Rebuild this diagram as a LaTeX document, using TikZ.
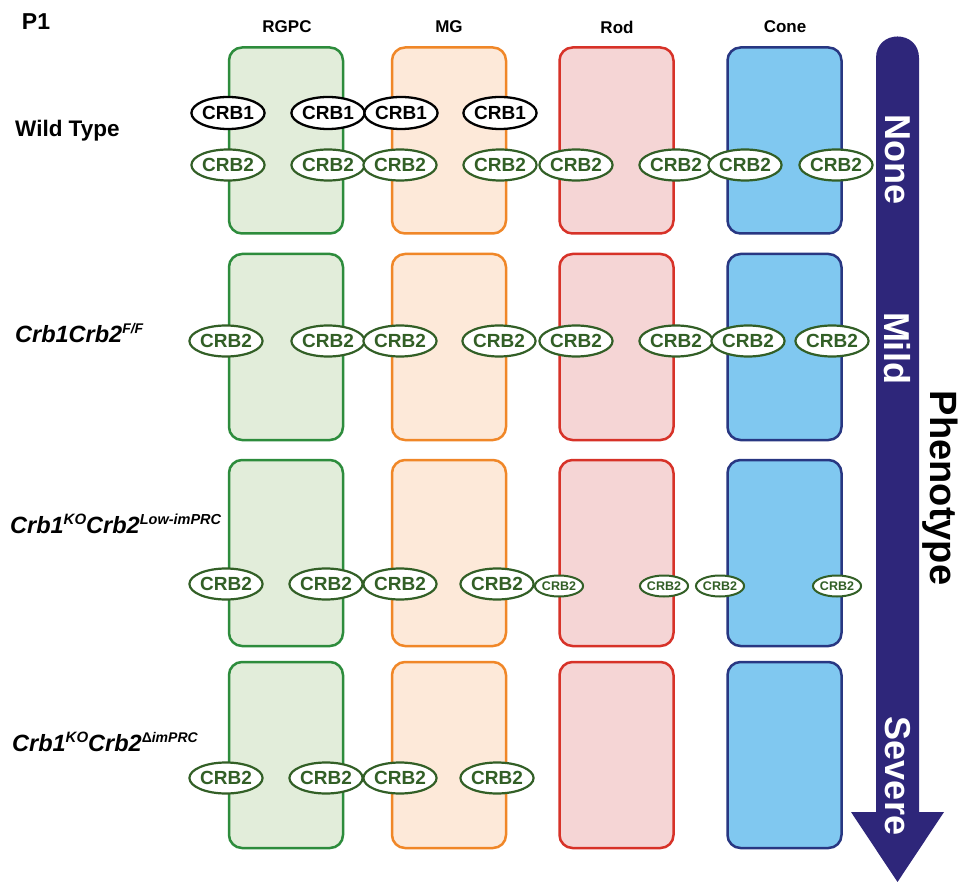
\documentclass[tikz,border=0pt]{standalone}
\usepackage{fontspec}
\setmainfont{Liberation Sans}
\usetikzlibrary{shapes.geometric}
\definecolor{greenS}{RGB}{45,140,60}
\definecolor{greenF}{RGB}{226,237,218}
\definecolor{orangeS}{RGB}{240,135,40}
\definecolor{orangeF}{RGB}{253,233,217}
\definecolor{redS}{RGB}{215,50,40}
\definecolor{redF}{RGB}{245,213,213}
\definecolor{blueS}{RGB}{40,55,130}
\definecolor{blueF}{RGB}{128,200,240}
\definecolor{arrowC}{RGB}{46,38,122}
\definecolor{crbG}{RGB}{50,95,38}
\newcommand{\fs}[1]{\fontsize{#1}{#1}\selectfont}
\begin{document}
\begin{tikzpicture}[x=1pt,y=-1pt,
  cellbox/.style={draw, line width=2.5pt, rounded corners=13pt, minimum width=114pt, minimum height=186pt, inner sep=0pt},
  crbone/.style={ellipse, draw=black, fill=white, line width=2.3pt, minimum width=68pt, minimum height=32pt, inner sep=0pt, font=\fs{19}\bfseries, text=black},
  crbtwo/.style={ellipse, draw=crbG, fill=white, line width=2.2pt, minimum width=68pt, minimum height=31pt, inner sep=0pt, font=\fs{19}\bfseries, text=crbG},
  crbsmall/.style={ellipse, draw=crbG, fill=white, line width=2pt, minimum width=48pt, minimum height=21pt, inner sep=0pt, font=\fs{12.5}\bfseries, text=crbG},
  collabel/.style={font=\fs{17}\bfseries},
  rowlabel/.style={anchor=west, font=\fs{23.5}\bfseries\itshape, inner sep=0pt},
  arrowtext/.style={rotate=-90, text=white, font=\fs{36}\bfseries},
]
\useasboundingbox (0,0) rectangle (966,882);
\fill[white] (0,0) rectangle (966,882);

% headings
\node[font=\fs{23}\bfseries] (p1) at (36,22) {P1};
\node[collabel] (hRGPC) at (287,27) {RGPC};
\node[collabel] (hMG) at (449,27) {MG};
\node[collabel] (hRod) at (617,27) {Rod};
\node[collabel] (hCone) at (785,27) {Cone};

% cell boxes
\foreach \r/\y in {1/140.5,2/347,3/553,4/755}{
  \node[cellbox, draw=greenS, fill=greenF] (rgpc\r) at (286,\y) {};
  \node[cellbox, draw=orangeS, fill=orangeF] (mg\r) at (449,\y) {};
  \node[cellbox, draw=redS, fill=redF] (rod\r) at (616.5,\y) {};
  \node[cellbox, draw=blueS, fill=blueF] (cone\r) at (784.5,\y) {};
}

% row labels
\node[anchor=west, inner sep=0pt, font=\fs{22.5}\bfseries] (lab1) at (15,131) {Wild Type};
\node[rowlabel] (lab2) at (15,333) {Crb1Crb2\raisebox{0.72ex}{\fs{14}F/F}};
\node[rowlabel] (lab3) at (10,524) {Crb1\raisebox{0.72ex}{\fs{15}KO}Crb2\raisebox{0.72ex}{\fs{14.5}Low-imPRC}};
\node[rowlabel] (lab4) at (12,742) {Crb1\raisebox{0.72ex}{\fs{15}KO}Crb2\raisebox{0.72ex}{\fs{14}\textup{Δ}imPRC}};

% row 1
\foreach \x [count=\i] in {228,328,401,500}
  \node[crbone] (a\i) at (\x,113) {CRB1};
\foreach \x [count=\i] in {228,328,400,500,576,676,745,836}
  \node[crbtwo] (b\i) at (\x,165) {CRB2};
% row 2
\foreach \x [count=\i] in {226,328,400,499,576,676,748,832}
  \node[crbtwo] (c\i) at (\x,341) {CRB2};
% row 3
\foreach \x [count=\i] in {226,326,400,497}
  \node[crbtwo] (d\i) at (\x,584) {CRB2};
\foreach \x [count=\i] in {559,664,720,837}
  \node[crbsmall] (s\i) at (\x,586) {CRB2};
% row 4
\foreach \x [count=\i] in {226,326,400,497}
  \node[crbtwo] (e\i) at (\x,778) {CRB2};

% phenotype arrow
\fill[arrowC] (876,812) -- (876,58) .. controls (876,29.3) and (919,29.3) .. (919,58)
  -- (919,812) -- (944,812) -- (897.5,882) -- (851,812) -- cycle;
\node[arrowtext] (none) at (897.5,160) {None};
\node[arrowtext] (mild) at (897.5,348) {Mild};
\node[arrowtext] (severe) at (897.5,776) {Severe};
\node[rotate=-90, font=\fs{38}\bfseries] (pheno) at (940,488) {Phenotype};
\end{tikzpicture}
\end{document}
